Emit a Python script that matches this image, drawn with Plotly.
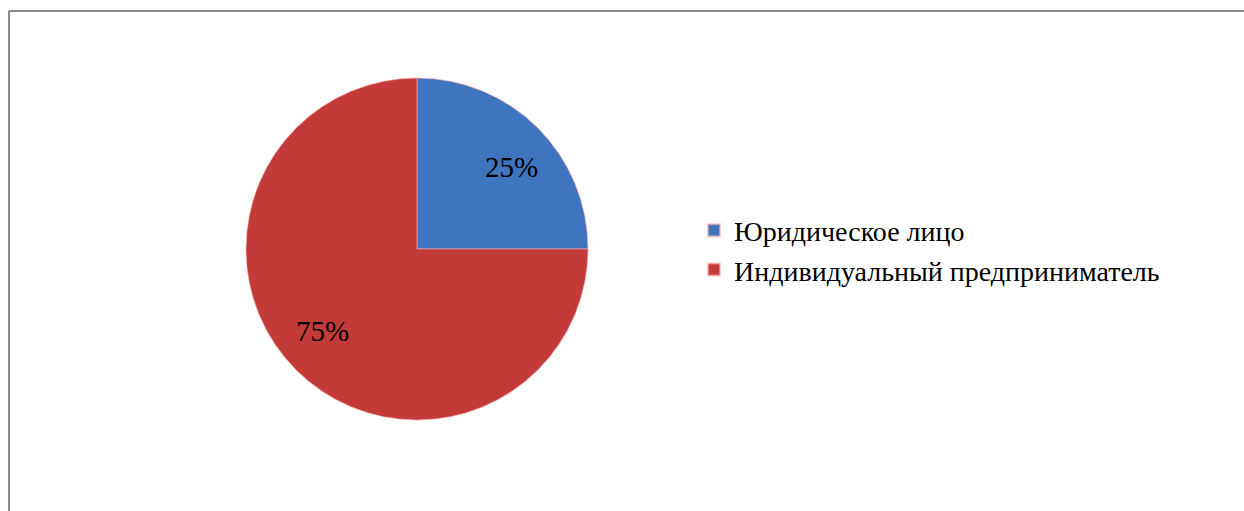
import math
import plotly.graph_objects as go

labels = ["Юридическое лицо", "Индивидуальный предприниматель"]
values = [25, 75]
colors = ["#3f75be", "#c23b39"]

W, H = 1244, 511
cx, cy, r = 417, 249, 171
SERIF = "Liberation Serif, Times New Roman, Times, serif"

fig = go.Figure(go.Pie(
    labels=labels,
    values=values,
    sort=False,
    direction="clockwise",
    rotation=0,
    marker=dict(colors=colors, line=dict(color="rgba(255,170,170,0.6)", width=1)),
    textinfo="none",
    domain=dict(x=[(cx - r) / W, (cx + r) / W],
                y=[(H - cy - r) / H, (H - cy + r) / H]),
    hoverinfo="label+percent",
))

# percentage labels placed near the middle angle of each slice
total = sum(values)
annotations = []
acc = 0
for v in values:
    mid = (acc + v / 2) / total * 2 * math.pi + math.radians(4)
    acc += v
    d = 0.73 * r
    annotations.append(dict(
        x=(cx + d * math.sin(mid)) / W,
        y=(H - cy + d * math.cos(mid)) / H,
        xref="paper", yref="paper", showarrow=False,
        xanchor="center", yanchor="middle",
        text=f"{round(v / total * 100)}%",
        font=dict(family=SERIF, size=29, color="black"),
    ))

fig.update_layout(
    width=W, height=H,
    margin=dict(l=0, r=0, t=0, b=0),
    paper_bgcolor="white",
    plot_bgcolor="white",
    font=dict(family=SERIF, color="black"),
    showlegend=True,
    legend=dict(
        x=694 / W, xanchor="left",
        y=(H - 250) / H, yanchor="middle",
        font=dict(family=SERIF, size=28, color="black"),
        itemsizing="constant",
        tracegroupgap=0,
        bgcolor="rgba(0,0,0,0)",
    ),
    annotations=annotations,
    shapes=[
        dict(type="line", xref="paper", yref="paper",
             x0=9 / W, x1=1, y0=1 - 11 / H, y1=1 - 11 / H,
             line=dict(color="#8a8a8a", width=2)),
        dict(type="line", xref="paper", yref="paper",
             x0=9 / W, x1=9 / W, y0=1 - 11 / H, y1=0,
             line=dict(color="#8a8a8a", width=2)),
    ],
)

fig.write_html("out.html",
               config={"displayModeBar": False},
               post_script="document.body.style.margin='0';document.body.style.overflow='hidden';")
